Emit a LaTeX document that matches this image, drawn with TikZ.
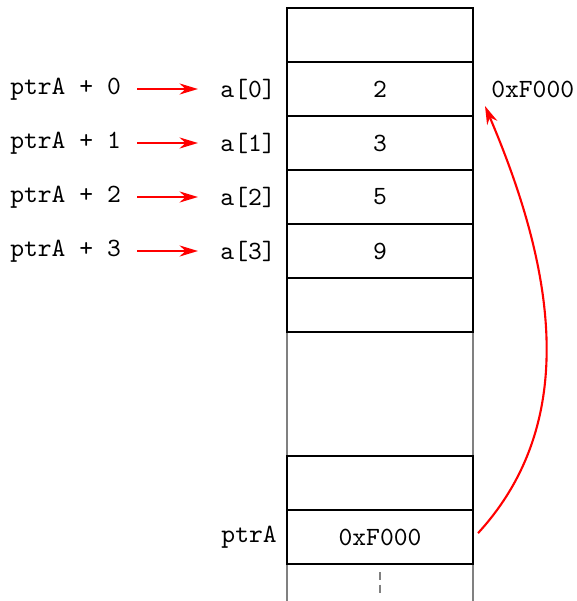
\documentclass[tikz,border=0pt]{standalone}
\usetikzlibrary{arrows.meta}
\begin{document}
\begin{tikzpicture}[x=0.38pt, y=-0.38pt,
  cell/.style={draw, line width=1.1pt, minimum width=70.7pt, minimum height=20.5pt, inner sep=0pt, font=\ttfamily},
  lbl/.style={font=\ttfamily},
  rarrow/.style={red, line width=0.8pt, -{Stealth[length=7pt, width=4.2pt]}},
  wall/.style={gray, line width=0.8pt}]
\useasboundingbox (0,0) rectangle (577,601);
% walls (behind the cells)
\coordinate (tl) at (287,332);
\coordinate (tr) at (473,332);
\coordinate (bl) at (287,601);
\coordinate (br) at (473,601);
\coordinate (dtop) at (380,572);
\coordinate (dbot) at (380,594);
\draw[wall] (tl) -- (bl);
\draw[wall] (tr) -- (br);
\draw[wall, dash pattern=on 3pt off 1.8pt] (dtop) -- (dbot);
% memory cells
\node[cell, fill=white] (c0) at (380,35) {};
\node[cell, fill=white] (c1) at (380,89) {2};
\node[cell, fill=white] (c2) at (380,143) {3};
\node[cell, fill=white] (c3) at (380,197) {5};
\node[cell, fill=white] (c4) at (380,251) {9};
\node[cell, fill=white] (c5) at (380,305) {};
\node[cell, fill=white] (d1) at (380,483) {};
\node[cell, fill=white] (d2) at (380,537) {0xF000};
% labels
\node[lbl, anchor=east] (a0) at (285,89) {a[0]};
\node[lbl, anchor=east] (a1) at (285,143) {a[1]};
\node[lbl, anchor=east] (a2) at (285,197) {a[2]};
\node[lbl, anchor=east] (a3) at (285,251) {a[3]};
\node[lbl, anchor=west] (p0) at (1,89) {ptrA + 0};
\node[lbl, anchor=west] (p1) at (1,143) {ptrA + 1};
\node[lbl, anchor=west] (p2) at (1,197) {ptrA + 2};
\node[lbl, anchor=west] (p3) at (1,251) {ptrA + 3};
\node[lbl, anchor=west] (addr) at (482,89) {0xF000};
\node[lbl, anchor=east] (ptr) at (286,537) {ptrA};
% arrows
\foreach \i in {0,1,2,3}
  \draw[rarrow, shorten <=2.8pt, shorten >=5pt] (p\i.east) -- (a\i.west);
\coordinate (tip) at (485,106);
\draw[rarrow, shorten <=2pt] (d2.east) .. controls (580,422) and (555,270) .. (tip);
\end{tikzpicture}
\end{document}
